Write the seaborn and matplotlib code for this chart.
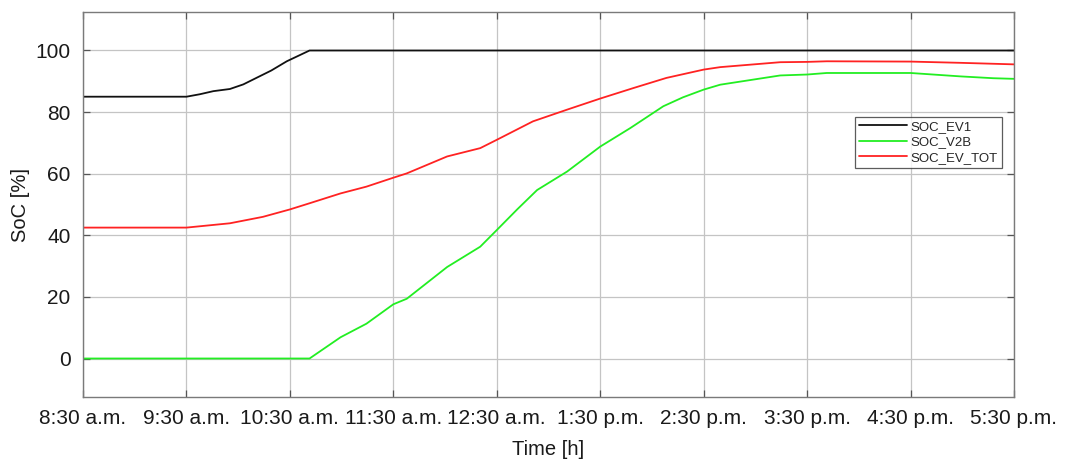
import matplotlib
matplotlib.use("Agg")
import matplotlib.pyplot as plt
import seaborn as sns
import pandas as pd
import numpy as np

# time in hours after 8:30 a.m.
t_ev1 = [0, 1.0, 1.13, 1.26, 1.42, 1.55, 1.67, 1.82, 1.97, 2.19, 9.0]
soc_ev1 = [85, 85, 85.8, 86.8, 87.5, 89.0, 91.0, 93.5, 96.5, 100, 100]

t_v2b = [0, 2.19, 2.49, 2.74, 3.0, 3.13, 3.52, 3.84, 4.0, 4.2, 4.39, 4.68, 5.0, 5.29,
         5.61, 5.8, 6.0, 6.16, 6.74, 7.0, 7.19, 8.0, 8.48, 8.8, 9.0]
soc_v2b = [0, 0, 6.9, 11.3, 17.6, 19.4, 29.7, 36.3, 41.7, 48.5, 54.7, 60.7, 68.8, 74.8,
           81.9, 84.8, 87.3, 88.9, 91.9, 92.2, 92.7, 92.7, 91.6, 91.0, 90.8]

t_tot = [0, 1.0, 1.42, 1.74, 2.0, 2.19, 2.49, 2.74, 3.0, 3.13, 3.52, 3.84, 4.0,
         4.35, 4.68, 5.0, 5.32, 5.64, 6.0, 6.16, 6.74, 7.0, 7.19, 8.0, 8.48, 9.0]
soc_tot = [42.5, 42.5, 43.9, 46.0, 48.4, 50.4, 53.6, 55.8, 58.7, 60.1, 65.6, 68.3, 71.0,
           77.0, 80.8, 84.4, 87.8, 91.1, 93.8, 94.6, 96.2, 96.3, 96.5, 96.4, 96.0, 95.5]

series_names = ["SOC_EV1", "SOC_V2B", "SOC_EV_TOT"]
series_colors = ["#111111", "#22ee22", "#ff2222"]

x_tick_labels = ["8:30 a.m.", "9:30 a.m.", "10:30 a.m.", "11:30 a.m.", "12:30 a.m.",
                 "1:30 p.m.", "2:30 p.m.", "3:30 p.m.", "4:30 p.m.", "5:30 p.m."]
y_ticks = [0, 20, 40, 60, 80, 100]

df = pd.concat([
    pd.DataFrame({"t": t_ev1, "soc": soc_ev1, "series": series_names[0]}),
    pd.DataFrame({"t": t_v2b, "soc": soc_v2b, "series": series_names[1]}),
    pd.DataFrame({"t": t_tot, "soc": soc_tot, "series": series_names[2]}),
], ignore_index=True)

sns.set_style("white")
plt.rcParams["font.family"] = ["Liberation Sans", "DejaVu Sans"]

fig = plt.figure(figsize=(10.86, 4.63), dpi=100)
ax = fig.add_axes([83 / 1086, 66 / 463, 931 / 1086, 385 / 463])

sns.lineplot(data=df, x="t", y="soc", hue="series", hue_order=series_names,
             palette=series_colors, errorbar=None, sort=True, linewidth=1.3,
             estimator=None, ax=ax)

ax.set_xlim(0, 9)
ax.set_ylim(-12.5, 112.5)
ax.set_xticks(range(len(x_tick_labels)))
ax.set_xticklabels(x_tick_labels)
ax.set_yticks(y_ticks)
ax.grid(True, color="#c4c4c4", linewidth=0.9)
ax.set_axisbelow(True)
for s in ax.spines.values():
    s.set_color("#7a7a7a")
    s.set_linewidth(1.0)
ax.tick_params(axis="both", direction="in", length=5, color="#555555",
               labelsize=15, labelcolor="#1a1a1a", top=True, right=True,
               bottom=True, left=True, width=0.9)
ax.tick_params(axis="x", pad=9)
ax.tick_params(axis="y", pad=9)
ax.set_xlabel("Time [h]", fontsize=14.5, color="#1a1a1a", labelpad=8)
ax.set_ylabel("SoC [%]", fontsize=14.5, color="#1a1a1a", labelpad=4)

leg = ax.legend(loc="upper right", bbox_to_anchor=(0.987, 0.728), fontsize=9.5,
                frameon=True, fancybox=False, handlelength=3.6, handletextpad=0.3,
                borderpad=0.3, labelspacing=0.25, borderaxespad=0)
leg.get_frame().set_edgecolor("#333333")
leg.get_frame().set_linewidth(0.9)
for line in leg.get_lines():
    line.set_linewidth(1.3)

fig.savefig("out.png", dpi=100)
